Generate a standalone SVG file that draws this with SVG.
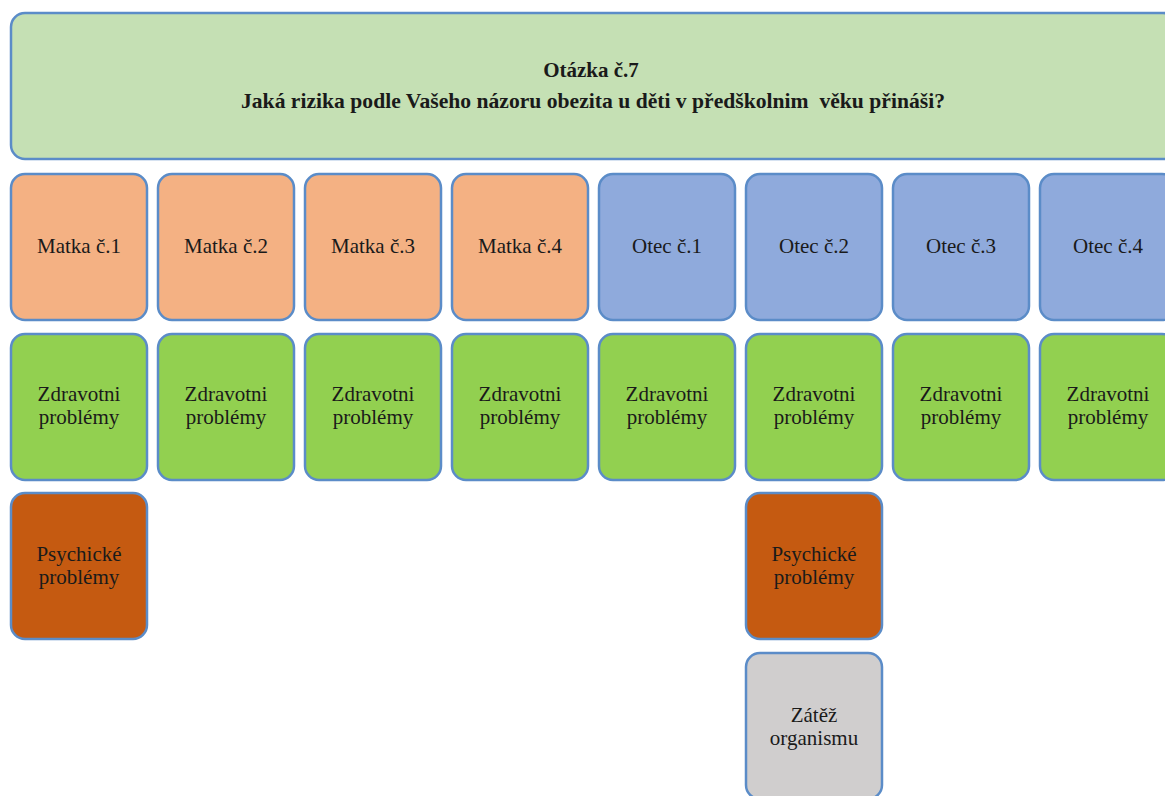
<svg xmlns="http://www.w3.org/2000/svg" width="1165" height="796" viewBox="0 0 1165 796">
<style>
.b{stroke:#5b8cc8;stroke-width:2.5}
.t{font-family:"Liberation Serif","Times New Roman",serif;font-size:21px;fill:#1a1a1a;text-anchor:middle}
.h{font-family:"Liberation Serif","Times New Roman",serif;font-size:21px;font-weight:bold;fill:#1a1a1a;text-anchor:middle}
.title{fill:#c5e0b4}.m{fill:#f4b183}.o{fill:#8faadc}.z{fill:#92d050}.p{fill:#c55a11}.g{fill:#d0cece}
</style>
<rect width="1165" height="796" fill="#ffffff"/>
<g id="title">
<rect class="b title" x="11" y="13" width="1166" height="146" rx="14"/>
<text class="h" x="591" y="77">Otázka č.7</text>
<text class="h" x="593" y="108" xml:space="preserve" textLength="704" lengthAdjust="spacingAndGlyphs">Jaká rizika podle Vašeho názoru obezita u děti v předškolnim  věku přináši?</text>
</g>
<g id="connectors"></g>
<g id="matka1"><rect class="b m" x="11" y="174" width="136" height="146" rx="14"/><text class="t" x="79" y="253">Matka č.1</text></g>
<g id="matka2"><rect class="b m" x="158" y="174" width="136" height="146" rx="14"/><text class="t" x="226" y="253">Matka č.2</text></g>
<g id="matka3"><rect class="b m" x="305" y="174" width="136" height="146" rx="14"/><text class="t" x="373" y="253">Matka č.3</text></g>
<g id="matka4"><rect class="b m" x="452" y="174" width="136" height="146" rx="14"/><text class="t" x="520" y="253">Matka č.4</text></g>
<g id="otec1"><rect class="b o" x="599" y="174" width="136" height="146" rx="14"/><text class="t" x="667" y="253">Otec č.1</text></g>
<g id="otec2"><rect class="b o" x="746" y="174" width="136" height="146" rx="14"/><text class="t" x="814" y="253">Otec č.2</text></g>
<g id="otec3"><rect class="b o" x="893" y="174" width="136" height="146" rx="14"/><text class="t" x="961" y="253">Otec č.3</text></g>
<g id="otec4"><rect class="b o" x="1040" y="174" width="136" height="146" rx="14"/><text class="t" x="1108" y="253">Otec č.4</text></g>
<g id="zdrav1"><rect class="b z" x="11" y="334" width="136" height="146" rx="14"/><text class="t" x="79" y="401">Zdravotni</text><text class="t" x="79" y="424">problémy</text></g>
<g id="zdrav2"><rect class="b z" x="158" y="334" width="136" height="146" rx="14"/><text class="t" x="226" y="401">Zdravotni</text><text class="t" x="226" y="424">problémy</text></g>
<g id="zdrav3"><rect class="b z" x="305" y="334" width="136" height="146" rx="14"/><text class="t" x="373" y="401">Zdravotni</text><text class="t" x="373" y="424">problémy</text></g>
<g id="zdrav4"><rect class="b z" x="452" y="334" width="136" height="146" rx="14"/><text class="t" x="520" y="401">Zdravotni</text><text class="t" x="520" y="424">problémy</text></g>
<g id="zdrav5"><rect class="b z" x="599" y="334" width="136" height="146" rx="14"/><text class="t" x="667" y="401">Zdravotni</text><text class="t" x="667" y="424">problémy</text></g>
<g id="zdrav6"><rect class="b z" x="746" y="334" width="136" height="146" rx="14"/><text class="t" x="814" y="401">Zdravotni</text><text class="t" x="814" y="424">problémy</text></g>
<g id="zdrav7"><rect class="b z" x="893" y="334" width="136" height="146" rx="14"/><text class="t" x="961" y="401">Zdravotni</text><text class="t" x="961" y="424">problémy</text></g>
<g id="zdrav8"><rect class="b z" x="1040" y="334" width="136" height="146" rx="14"/><text class="t" x="1108" y="401">Zdravotni</text><text class="t" x="1108" y="424">problémy</text></g>
<g id="psych1"><rect class="b p" x="11" y="493" width="136" height="146" rx="14"/><text class="t" x="79" y="561">Psychické</text><text class="t" x="79" y="584">problémy</text></g>
<g id="psych2"><rect class="b p" x="746" y="493" width="136" height="146" rx="14"/><text class="t" x="814" y="561">Psychické</text><text class="t" x="814" y="584">problémy</text></g>
<g id="zatez"><rect class="b g" x="746" y="653" width="136" height="146" rx="14"/><text class="t" x="814" y="722">Zátěž</text><text class="t" x="814" y="745">organismu</text></g>
</svg>
